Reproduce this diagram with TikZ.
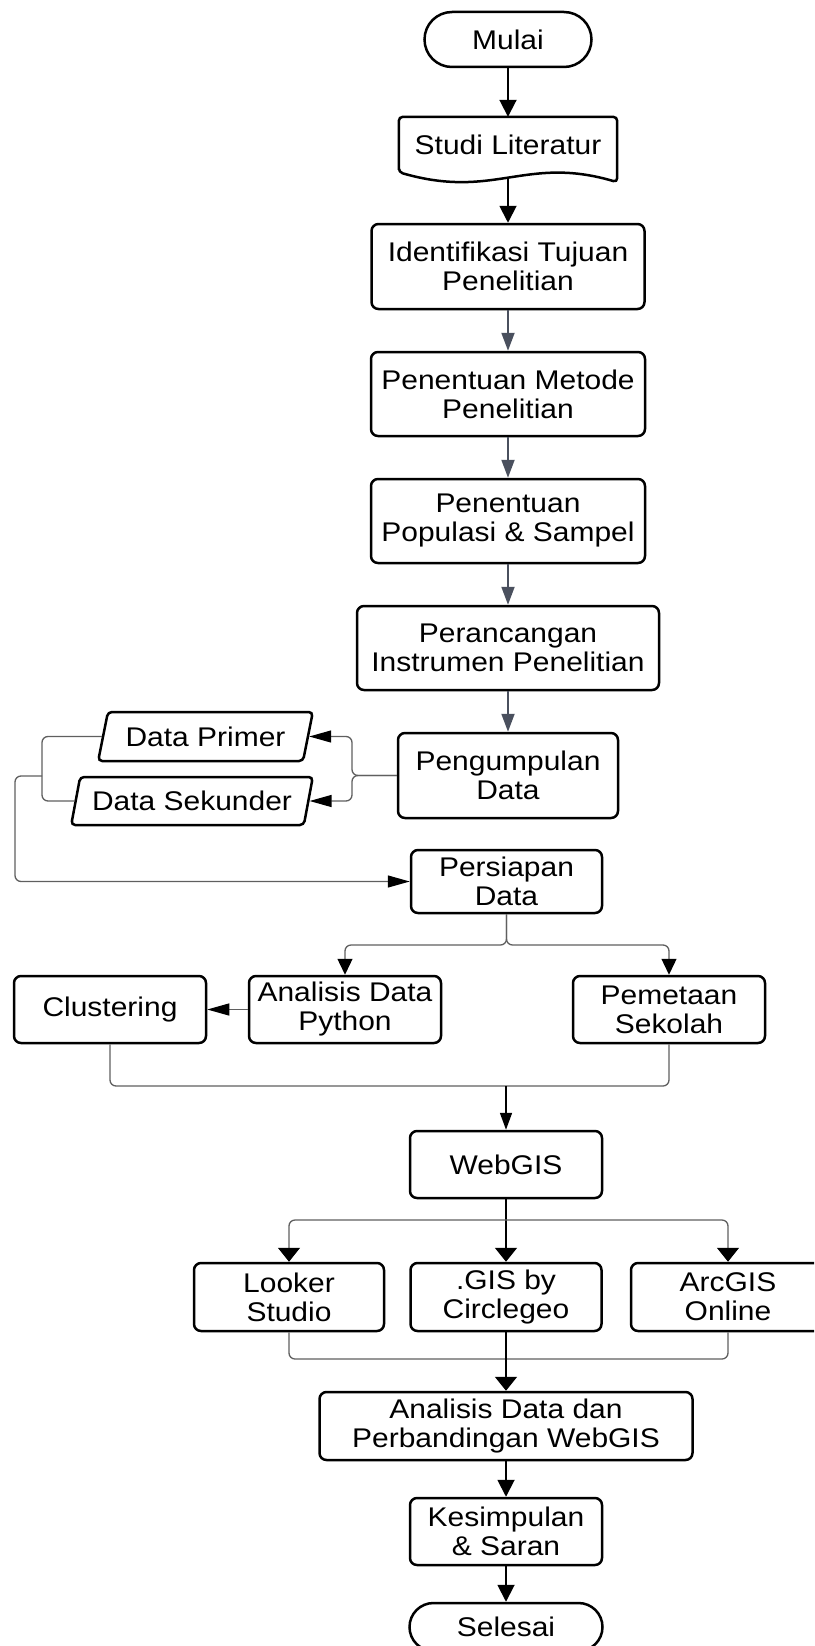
\documentclass[tikz,border=0pt]{standalone}
\usepackage{fontspec}
\setmainfont{Liberation Sans}[FakeStretch=1.11]
\usetikzlibrary{arrows.meta,shapes.geometric,shapes.misc}

\definecolor{flowgray}{RGB}{74,80,94}
\definecolor{linkgray}{RGB}{95,95,95}

\tikzset{
  txt/.style={font=\fontsize{27}{29}\selectfont, align=center, inner sep=0pt, text=black},
  procbox/.style={txt, rectangle, draw=black, line width=2.5pt, rounded corners=7pt},
  termbox/.style={txt, rounded rectangle, draw=black, line width=2.5pt},
  iobox/.style={txt, trapezium, trapezium left angle=68, trapezium right angle=112,
    trapezium stretches=true, draw=black, line width=2.5pt, rounded corners=4pt},
  mainarrow/.style={line width=1.9pt, draw=black, -{Triangle[length=17pt,width=17pt]}},
  slatearrow/.style={line width=2pt, draw=flowgray, -{Triangle[length=18pt,width=13pt]}},
  link/.style={line width=1.3pt, draw=linkgray, rounded corners=6pt},
  sidehead/.style={-{Triangle[length=22pt,width=12pt,color=black]}},
  downhead/.style={-{Triangle[length=16pt,width=15pt,color=black]}},
  widehead/.style={-{Triangle[length=14pt,width=22pt,color=black]}},
}

\begin{document}
\begin{tikzpicture}[x=1pt,y=-1pt]
\useasboundingbox (0,0) rectangle (814,1646);
\clip (0,0) rectangle (814,1646);

% main column
\node[termbox, minimum width=167pt, minimum height=55pt] (mulai) at (508,39.5) {Mulai};
\node[txt, minimum width=218pt, minimum height=55pt] (studi) at (508,144.5) {Studi Literatur};
\draw[line width=2.5pt, rounded corners=4pt] (studi.south west) -- (studi.north west)
  -- (studi.north east) -- ([yshift=-10pt]studi.south east)
  .. controls (525,155) and (495,200) .. (studi.south west) -- cycle;
\coordinate (studiwave) at (508,178);

\node[procbox, minimum width=273pt, minimum height=85pt] (ident) at (508,266.5) {Identifikasi Tujuan\\Penelitian};
\node[procbox, minimum width=274pt, minimum height=84pt] (metode) at (508,394) {Penentuan Metode\\Penelitian};
\node[procbox, minimum width=274pt, minimum height=84pt] (populasi) at (508,521) {Penentuan\\Populasi \& Sampel};
\node[procbox, minimum width=302pt, minimum height=84pt] (rancang) at (508,648) {Perancangan\\Instrumen Penelitian};
\node[procbox, minimum width=220pt, minimum height=85pt] (kumpul) at (508,775.5) {Pengumpulan\\Data};

% data sources
\node[iobox, minimum width=215pt, minimum height=49pt] (primer) at (205.5,736.5) {Data Primer};
\node[iobox, minimum width=242pt, minimum height=48pt] (sekunder) at (192,801) {Data Sekunder};

\node[procbox, minimum width=191pt, minimum height=63pt] (siap) at (506.5,881.5) {Persiapan\\Data};

% processing row
\node[procbox, minimum width=192pt, minimum height=67pt] (cluster) at (110,1009.5) {Clustering};
\node[procbox, minimum width=192pt, minimum height=67pt] (python) at (345,1009.5) {Analisis Data\\Python};
\node[procbox, minimum width=192pt, minimum height=67pt] (peta) at (669,1009.5) {Pemetaan\\Sekolah};

\node[procbox, minimum width=192pt, minimum height=67pt] (webgis) at (506,1164.5) {WebGIS};

% platforms
\node[procbox, minimum width=190pt, minimum height=68pt] (looker) at (289,1297) {Looker\\Studio};
\node[procbox, minimum width=191pt, minimum height=68pt] (circle) at (506,1297) {.GIS by\\Circlegeo};
\node[procbox, minimum width=194pt, minimum height=68pt] (arcgis) at (728,1297) {ArcGIS\\Online};

\node[procbox, minimum width=373pt, minimum height=68pt] (banding) at (506,1426) {Analisis Data dan\\Perbandingan WebGIS};
\node[procbox, minimum width=192pt, minimum height=67pt] (simpul) at (506,1531.5) {Kesimpulan\\\& Saran};
\node[termbox, minimum width=193pt, minimum height=48pt] (selesai) at (506,1627) {Selesai};

% connectors
\draw[mainarrow] (mulai.south) -- (studi.north);
\draw[mainarrow] (studiwave) -- (ident.north);
\draw[slatearrow] (ident.south) -- (metode.north);
\draw[slatearrow] (metode.south) -- (populasi.north);
\draw[slatearrow] (populasi.south) -- (rancang.north);
\draw[slatearrow] (rancang.south) -- (kumpul.north);

\coordinate (bracetip) at (352,775.5);
\draw[link, sidehead] (kumpul.west) -- (bracetip) |- (primer.east);
\draw[link, sidehead] (kumpul.west) -- (bracetip) |- (sekunder.east);

\coordinate (gather) at (42,776);
\coordinate (detour) at (15,776);
\draw[link] (primer.west) -| (gather) |- (sekunder.west);
\draw[link, sidehead] (gather) -- (detour) |- (siap.west);

\coordinate (split) at (506.5,945);
\draw[link, downhead] (siap.south) -- (split) -| (python.north);
\draw[link, downhead] (siap.south) -- (split) -| (peta.north);
\draw[link, sidehead] (python.west) -- (cluster.east);

\coordinate (join) at (506,1086);
\draw[link] (cluster.south) |- (join) -| (peta.south);
\draw[line width=1.7pt, draw=black, -{Triangle[length=17pt,width=12pt]}] (join) -- (webgis.north);

\coordinate (fan) at (506,1220);
\draw[line width=1.9pt, draw=black, widehead] (webgis.south) -- (circle.north);
\draw[link, widehead] (fan) -| (looker.north);
\draw[link, widehead] (fan) -| (arcgis.north);

\coordinate (collect) at (506,1359);
\draw[link] (looker.south) |- (collect) -| (arcgis.south);
\draw[line width=1.9pt, draw=black, widehead] (circle.south) -- (banding.north);

\draw[mainarrow] (banding.south) -- (simpul.north);
\draw[mainarrow] (simpul.south) -- (selesai.north);
\end{tikzpicture}
\end{document}
